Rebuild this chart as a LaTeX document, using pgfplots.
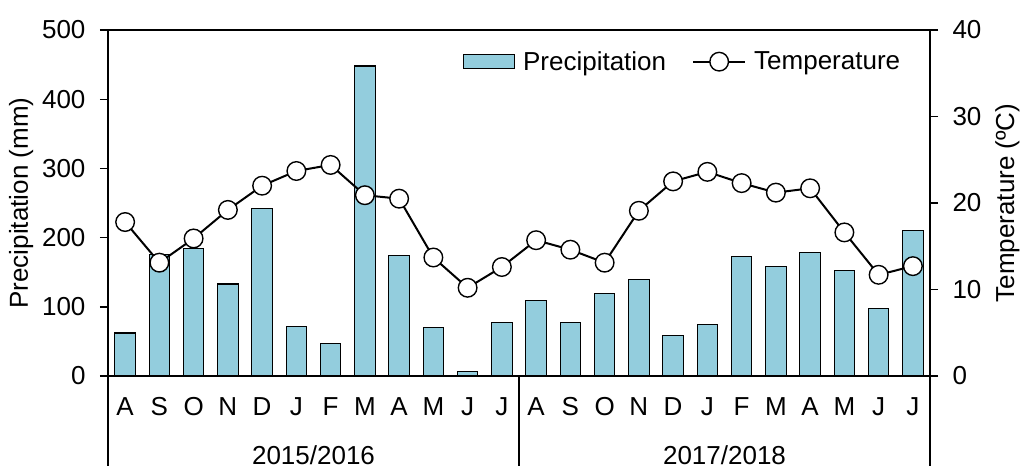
\documentclass[border=0pt]{standalone}
\usepackage{pgfplots}
\pgfplotsset{compat=1.18}
\usepackage{pgfplotstable}
\usepackage{fontspec}
\setmainfont{Liberation Sans}
\definecolor{barblue}{HTML}{93CDDD}

% Monthly precipitation (mm) and mean temperature (C), Aug 2015 - Jul 2016 and Aug 2017 - Jul 2018
\pgfplotstableread{
idx prec temp
0   62  17.8
1   176 13.1
2   184 15.9
3   133 19.2
4   242 22.0
5   72  23.7
6   47  24.4
7   448 20.9
8   174 20.5
9   70  13.7
10  6   10.2
11  77  12.6
12  109 15.7
13  77  14.6
14  119 13.1
15  139 19.1
16  58  22.5
17  74  23.6
18  173 22.3
19  158 21.2
20  179 21.7
21  153 16.6
22  98  11.7
23  210 12.7
}\climate

\pgfplotsset{
  longline legend/.style={legend image code/.code={
    \draw[##1, mark repeat=2, mark phase=2] plot coordinates {(0pt,0pt) (26pt,0pt) (52pt,0pt)};}},
  wide bar legend/.style={legend image code/.code={
    \draw[fill=barblue, draw=black, line width=1.2pt] (0pt,-7pt) rectangle (51pt,7pt);}},
}

\begin{document}
\begin{tikzpicture}
\pgfplotsset{
  every axis/.append style={
    scale only axis, width=822pt, height=346pt,
    xmin=-0.5, xmax=23.5,
    font=\fontsize{26}{31}\selectfont,
    axis line style={line width=1.7pt},
    tick style={line width=1.4pt, black},
    major tick length=8pt,
    tick align=outside,
    /pgf/number format/assume math mode=true,
    clip=false,
  }
}
\begin{axis}[
  axis y line*=left,
  ymin=0, ymax=500, ytick={0,100,...,500},
  yticklabel style={xshift=-11pt},
  xtick=data,
  xticklabels={A,S,O,N,D,J,F,M,A,M,J,J,A,S,O,N,D,J,F,M,A,M,J,J},
  xtick style={draw=none},
  xticklabel style={yshift=-10pt},
  ylabel={Precipitation (mm)},
  ylabel style={yshift=2pt},
]
\addplot[ybar, bar width=20.5pt, fill=barblue, draw=black, line width=1.2pt]
  table[x=idx, y=prec] {\climate};
% group separators and season labels below the axis
\draw[line width=1.2pt] (rel axis cs:0,0) -- ++(0pt,-90pt);
\draw[line width=1.2pt] (rel axis cs:0.5,0) -- ++(0pt,-90pt);
\draw[line width=1.2pt] (rel axis cs:1,0) -- ++(0pt,-90pt);
\node at (rel axis cs:0.25,0) [yshift=-79pt] {2015/2016};
\node at (rel axis cs:0.75,0) [yshift=-79pt] {2017/2018};
\end{axis}
\begin{axis}[
  axis y line*=right, axis x line=none,
  ymin=0, ymax=40, ytick={0,10,...,40},
  yticklabel style={xshift=11pt},
  ylabel={Temperature (ºC)},
  ylabel style={yshift=-7pt},
  legend columns=2,
  legend style={at={(0.97,0.95)}, anchor=north east, draw=none, fill=none,
    /tikz/every odd column/.append style={column sep=6pt},
    /tikz/every even column/.append style={column sep=24pt}},
]
\addlegendimage{wide bar legend}
\addlegendentry{Precipitation}
\addplot[black, line width=2pt, mark=*, mark size=9.3pt,
  mark options={fill=white, line width=1.4pt}, longline legend]
  table[x=idx, y=temp] {\climate};
\addlegendentry{Temperature}
\end{axis}
\pgfresetboundingbox
\path[use as bounding box] (-108pt,-90pt) rectangle (917pt,376pt);
\end{tikzpicture}
\end{document}
